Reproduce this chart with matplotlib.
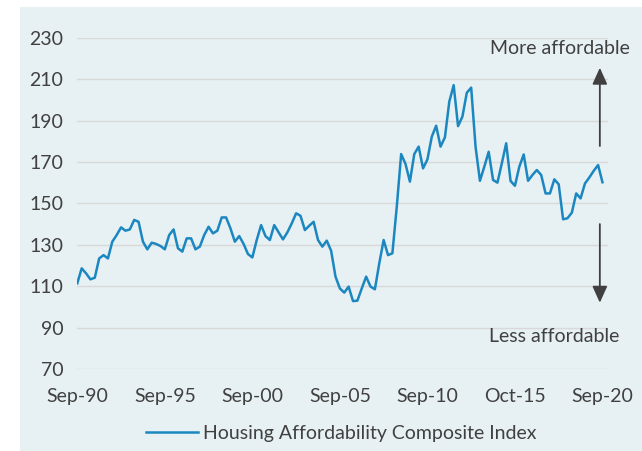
import numpy as np
import matplotlib.pyplot as plt
from matplotlib.patches import Rectangle

line_color = '#1B87C1'
panel_color = '#E7F0F3'
text_color = '#404040'
grid_color = '#D9D9D9'

# Housing Affordability Composite Index, quarterly from Sep-90 to Sep-20
hai_1990s = [111.4, 118.6, 116.2, 113.3, 114.1, 123.4, 125.0, 123.4, 131.5, 134.7,
             138.4, 136.8, 137.4, 142.0, 141.1, 131.5, 127.8, 131.0, 130.4, 129.4,
             127.8, 134.7, 137.4, 128.3, 126.7, 133.1, 133.1, 127.8, 129.1, 134.7,
             138.7, 135.5, 136.8, 143.2, 143.2, 137.9, 131.5, 134.2, 130.4, 125.5]
hai_2000s = [123.9, 132.3, 139.5, 134.2, 132.3, 139.5, 136.0, 132.6, 136.0, 140.3,
             145.2, 144.0, 137.1, 139.2, 141.1, 132.3, 129.1, 132.0, 127.1, 114.6,
             108.9, 106.9, 109.8, 102.8, 103.0, 108.9, 114.6, 109.8, 108.5, 121.0,
             132.3, 125.0, 125.9, 148.4, 173.8, 169.0, 160.5, 173.8, 177.4, 166.9]
hai_2010s = [171.2, 182.2, 187.5, 177.4, 181.9, 199.1, 207.1, 187.3, 191.9, 203.4,
             205.9, 177.4, 160.9, 167.7, 174.9, 161.3, 160.0, 169.3, 179.0, 160.8,
             158.5, 167.7, 173.6, 160.9, 163.7, 166.1, 163.7, 154.8, 154.8, 161.6,
             159.2, 142.3, 142.8, 145.5, 154.8, 152.4, 159.6, 162.5, 165.7, 168.5,
             160.2]
hai = hai_1990s + hai_2000s + hai_2010s
quarters = np.arange(len(hai))

tick_pos = [0, 20, 40, 60, 80, 100, 120]
tick_labels = ['Sep-90', 'Sep-95', 'Sep-00', 'Sep-05', 'Sep-10', 'Oct-15', 'Sep-20']
y_ticks = list(range(70, 231, 20))

fs = 14
plt.rcParams['font.family'] = ['Lato', 'DejaVu Sans']
fig = plt.figure(figsize=(6.42, 4.51), dpi=100)
fig.patch.set_facecolor('white')
fig.patches.append(Rectangle((20 / 642, 0), 1, 1 - 7 / 451, transform=fig.transFigure,
                             facecolor=panel_color, edgecolor='none', zorder=-10))

ax = fig.add_axes([0.1204, 0.1818, 0.8262, 0.7346])
ax.set_facecolor('none')
ax.plot(quarters, hai, color=line_color, lw=1.8, label='Housing Affordability Composite Index',
        solid_joinstyle='round')

ax.set_xlim(0, 121.2)
ax.set_ylim(70, 230)
ax.set_yticks(y_ticks)
ax.set_xticks(tick_pos)
ax.set_xticklabels(tick_labels)
ax.grid(axis='y', color=grid_color, lw=1.0)
ax.set_axisbelow(True)
for s in ax.spines.values():
    s.set_visible(False)
ax.tick_params(length=0, labelsize=fs, colors=text_color, pad=10)
ax.tick_params(axis='x', pad=14)

# direction arrows
arrow_kw = dict(arrowstyle='-|>,head_length=1.0,head_width=0.45', color=text_color, lw=1.3,
                shrinkA=0, shrinkB=0)
ax.annotate('', xy=(119.4, 215.5), xytext=(119.4, 177.7), arrowprops=arrow_kw, annotation_clip=False)
ax.annotate('', xy=(119.4, 102.0), xytext=(119.4, 140.0), arrowprops=arrow_kw, annotation_clip=False)
fig.text(559.5 / 642, 1 - 49 / 451, 'More affordable', ha='center', va='center',
         fontsize=fs, color=text_color)
fig.text(554 / 642, 1 - 336 / 451, 'Less affordable', ha='center', va='center',
         fontsize=fs, color=text_color)

ax.legend(loc='center', bbox_to_anchor=(341 / 642, 1 - 433 / 451), bbox_transform=fig.transFigure,
          frameon=False, fontsize=fs, labelcolor=text_color, handlelength=2.7, handletextpad=0.25)

fig.savefig('out.png', dpi=100)
